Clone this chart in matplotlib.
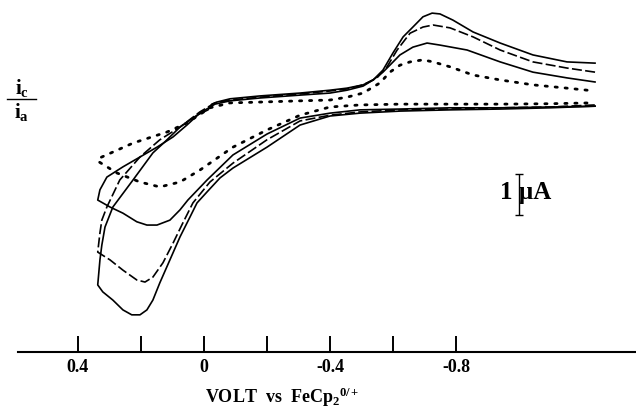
import matplotlib.pyplot as plt
from matplotlib.lines import Line2D

plt.rcParams["font.family"] = "Liberation Serif"
plt.rcParams["font.weight"] = "bold"
plt.rcParams["mathtext.fontset"] = "custom"
plt.rcParams["mathtext.rm"] = "Liberation Serif:bold"
plt.rcParams["mathtext.it"] = "Liberation Serif:bold"
plt.rcParams["mathtext.bf"] = "Liberation Serif:bold"

# Cyclic voltammograms, potential (V vs FeCp2) and current (uA)
# each trace: upper branch right->left, switch, lower branch left->right

# outer solid
v_a = [-1.241, -1.152, -1.044, -0.940, -0.854, -0.790, -0.749, -0.724, -0.695, -0.663,
       -0.632, -0.600, -0.568, -0.537, -0.505, -0.454, -0.400, -0.305, -0.178, -0.083,
       -0.041, -0.025, -0.013, 0.022, 0.076, 0.124, 0.162, 0.225, 0.289, 0.314,
       0.324, 0.330, 0.337,
       0.321, 0.289, 0.257, 0.229, 0.203, 0.181, 0.162, 0.140, 0.108, 0.076,
       0.044, 0.022, -0.010, -0.051, -0.092, -0.200, -0.305, -0.400, -0.495, -0.622,
       -0.781, -0.940, -1.098, -1.241]
i_a = [1.07, 1.10, 1.27, 1.56, 1.83, 2.12, 2.27, 2.29, 2.20, 1.95,
       1.71, 1.32, 0.90, 0.66, 0.54, 0.46, 0.41, 0.34, 0.27, 0.20,
       0.12, 0.07, -0.07, -0.20, -0.49, -0.85, -1.12, -1.78, -2.44, -2.93,
       -3.37, -3.73, -4.34,
       -4.51, -4.71, -4.95, -5.07, -5.07, -4.95, -4.71, -4.29, -3.73, -3.17,
       -2.68, -2.34, -2.07, -1.73, -1.49, -0.98, -0.44, -0.22, -0.15, -0.10,
       -0.07, -0.05, -0.02, 0.02]

# dashed
v_b = [-1.241, -1.152, -1.044, -0.940, -0.854, -0.781, -0.727, -0.695, -0.654, -0.613,
       -0.581, -0.549, -0.505, -0.454, -0.400, -0.305, -0.178, -0.083, -0.035, 0.013,
       0.076, 0.140, 0.203, 0.267, 0.308, 0.324, 0.330, 0.337,
       0.298, 0.257, 0.213, 0.187, 0.162, 0.130, 0.098, 0.067, 0.035, -0.019,
       -0.092, -0.200, -0.305, -0.400, -0.495, -0.622, -0.781, -0.940, -1.098, -1.241]
i_b = [0.85, 0.95, 1.10, 1.39, 1.71, 1.93, 2.00, 1.95, 1.80, 1.39,
       0.98, 0.71, 0.54, 0.44, 0.39, 0.32, 0.24, 0.17, 0.10, -0.12,
       -0.49, -0.80, -1.22, -1.78, -2.44, -2.76, -3.07, -3.54,
       -3.73, -3.98, -4.22, -4.27, -4.15, -3.80, -3.32, -2.83, -2.34, -1.83,
       -1.37, -0.80, -0.34, -0.20, -0.12, -0.07, -0.05, -0.02, 0.00, 0.05]

# inner solid
v_c = [-1.241, -1.152, -1.044, -0.940, -0.835, -0.749, -0.708, -0.663, -0.622, -0.590,
       -0.568, -0.537, -0.505, -0.454, -0.400, -0.305, -0.178, -0.083, -0.035, 0.013,
       0.054, 0.098, 0.149, 0.203, 0.257, 0.308, 0.330, 0.337,
       0.298, 0.257, 0.213, 0.181, 0.149, 0.108, 0.076, 0.051, -0.010, -0.092,
       -0.200, -0.305, -0.400, -0.495, -0.622, -0.781, -0.940, -1.098, -1.241]
i_c = [0.61, 0.71, 0.85, 1.10, 1.39, 1.51, 1.56, 1.46, 1.27, 1.02,
       0.85, 0.66, 0.51, 0.41, 0.34, 0.29, 0.22, 0.15, 0.07, -0.15,
       -0.44, -0.73, -0.98, -1.22, -1.46, -1.71, -2.02, -2.27,
       -2.44, -2.59, -2.80, -2.88, -2.88, -2.76, -2.51, -2.27, -1.78, -1.17,
       -0.66, -0.27, -0.15, -0.07, -0.05, -0.02, -0.02, 0.00, 0.02]

# dotted
v_d = [-1.216, -1.152, -1.044, -0.940, -0.854, -0.781, -0.727, -0.695, -0.654, -0.622,
       -0.590, -0.559, -0.505, -0.454, -0.400, -0.305, -0.178, -0.083, -0.019, 0.054,
       0.117, 0.225, 0.330, 0.337,
       0.276, 0.203, 0.140, 0.076, 0.013, -0.092, -0.200, -0.305, -0.400, -0.495,
       -0.622, -0.781, -0.940, -1.098, -1.225]
i_d = [0.41, 0.46, 0.54, 0.66, 0.78, 0.98, 1.10, 1.15, 1.10, 1.02,
       0.85, 0.59, 0.34, 0.24, 0.17, 0.15, 0.12, 0.10, -0.02, -0.39,
       -0.61, -0.88, -1.24, -1.32,
       -1.61, -1.83, -1.95, -1.83, -1.54, -0.98, -0.56, -0.20, 0.00, 0.05,
       0.07, 0.07, 0.07, 0.08, 0.10]

xticks = [0.4, 0.2, 0.0, -0.2, -0.4, -0.6, -0.8]
xticklabels = ["0.4", "", "0", "", "-0.4", "", "-0.8"]

# 1 uA scale bar
bar_v = -1.0
bar_top = -1.63
bar_len = 1.0

fig = plt.figure(figsize=(6.36, 4.11), dpi=100)
ax = fig.add_axes([0.0283, 0.1436, 0.9717, 0.8564])

ax.plot(v_a, i_a, color="black", lw=1.2)
ax.plot(v_b, i_b, color="black", lw=1.2, linestyle=(0, (6, 2)))
ax.plot(v_c, i_c, color="black", lw=1.2)
ax.plot(v_d, i_d, color="black", lw=2.0, linestyle=(0, (0.8, 2.8)),
        dash_capstyle="round")

ax.set_xlim(0.590, -1.371)
ax.set_ylim(-5.976, 2.610)

for s in ["left", "right", "top"]:
    ax.spines[s].set_visible(False)
ax.spines["bottom"].set_linewidth(1.5)
ax.set_yticks([])
ax.set_xticks(xticks)
ax.set_xticklabels(xticklabels, fontsize=13, fontweight="bold")
ax.tick_params(axis="x", direction="in", length=11.5, width=1.4, pad=5)

# scale bar
ax.errorbar([bar_v], [bar_top - bar_len / 2], yerr=bar_len / 2, color="black",
            lw=1.0, capsize=3, capthick=1.0)
ax.text(bar_v - 0.02, bar_top - bar_len / 2 + 0.05, "1 \u00b5A", ha="center",
        va="center", fontsize=18, fontweight="bold")

fig.text(0.443, 0.02, r"VOLT  vs  FeCp$_{\mathrm{2}}$$^{\mathrm{0/+}}$",
         ha="center", va="baseline", fontsize=13, fontweight="bold")

# i_c / i_a label
fig.text(0.034, 0.785, r"i$_{\mathrm{c}}$", ha="center", va="center", fontsize=15)
fig.text(0.034, 0.727, r"i$_{\mathrm{a}}$", ha="center", va="center", fontsize=15)
fig.add_artist(Line2D([0.011, 0.057], [0.758, 0.758], color="black", lw=1.0))

fig.savefig("out.png", dpi=100, facecolor="white")
